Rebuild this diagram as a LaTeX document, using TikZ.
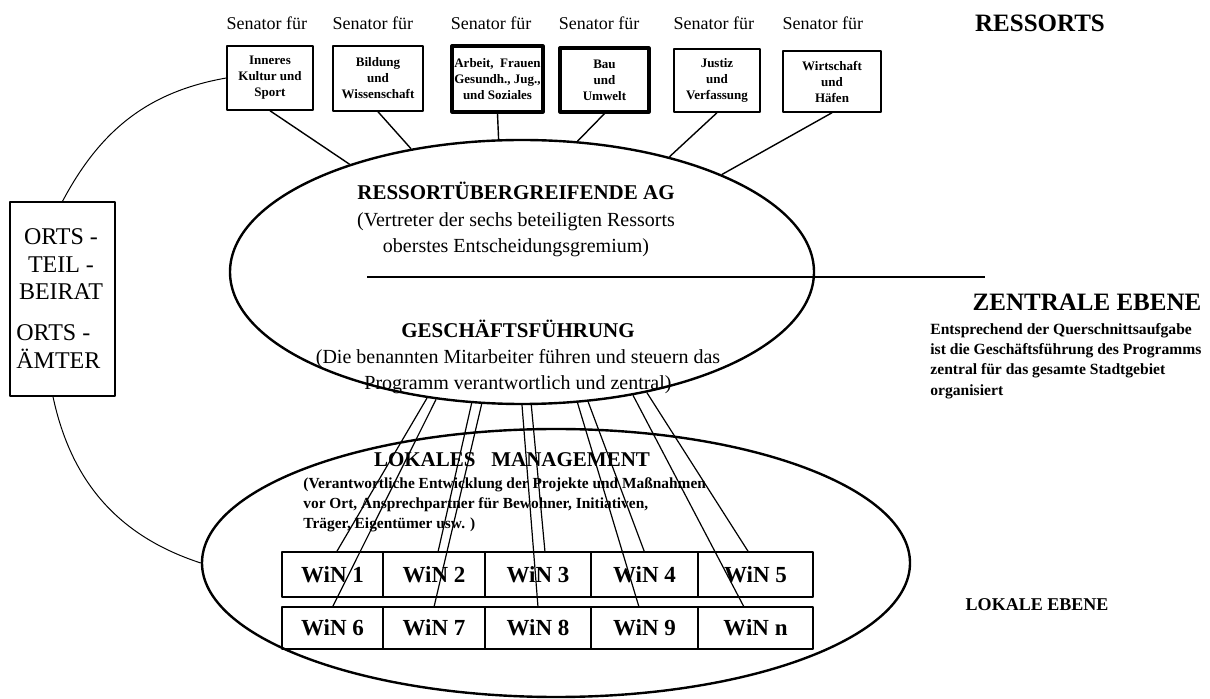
\documentclass[tikz,border=0pt]{standalone}
\usepackage{fontspec}
\setmainfont{Liberation Serif}
\usetikzlibrary{shapes.geometric}
\usetikzlibrary{positioning}

\tikzset{
    ressort/.style={draw, line width=0.75pt, inner sep=0pt, align=center,
        font=\fontsize{6.5}{8}\selectfont\bfseries},
    senator/.style={anchor=west, inner sep=0pt, font=\fontsize{9}{11}\selectfont},
    win/.style={draw, line width=1pt, inner sep=0pt, outer sep=0pt,
        font=\fontsize{11.5}{13}\selectfont\bfseries},
    ebene/.style={inner sep=0pt, font=\fontsize{12.5}{15}\selectfont\bfseries},
}

\begin{document}
\begin{tikzpicture}[x=0.5pt, y=0.5pt, line join=round, link/.style={line width=0.7pt}]
    \useasboundingbox (0,0) rectangle (1210,-699);

    % Ressorts
    \node[ressort, minimum width=43pt, minimum height=32pt] (s1) at (270,-78) {Inneres\\Kultur und\\Sport};
    \node[ressort, minimum width=45pt, minimum height=32.5pt] (s2) at (378,-78.5) {Bildung\\und\\Wissenschaft};
    \node[ressort, line width=1.6pt, minimum width=45.5pt, minimum height=33pt] (s3) at (497.5,-79) {Arbeit,~ Frauen\\Gesundh., Jug.,\\und Soziales};
    \node[ressort, line width=1.6pt, minimum width=44.5pt, minimum height=32pt] (s4) at (604.5,-80) {Bau\\und\\Umwelt};
    \node[ressort, minimum width=43pt, minimum height=31.5pt] (s5) at (717,-80.5) {Justiz\\und\\Verfassung};
    \node[ressort, minimum width=49pt, minimum height=30.5pt] (s6) at (832,-81.5) {Wirtschaft\\und\\Häfen};

    \coordinate (senrow) at (0,-23);
    \foreach \s in {1,...,6}
        \node[senator] (l\s) at (s\s.north west |- senrow) {Senator für};

    \node[ebene] (res) at (1040,-23) {RESSORTS};

    % zentrale Ebene
    \node[draw, ellipse, line width=1.2pt, minimum width=292pt, minimum height=132pt, inner sep=0pt] (ag) at (522,-272) {};
    \node[align=center, inner sep=0pt, font=\fontsize{10}{13.2}\selectfont] (agt) at (516,-219.5)
        {{\fontsize{10.5}{13}\selectfont\bfseries RESSORTÜBERGREIFENDE AG}\\(Vertreter der sechs beteiligten Ressorts\\oberstes Entscheidungsgremium)};
    \node[align=center, inner sep=0pt, font=\fontsize{10}{13}\selectfont] (gf) at (518,-357)
        {{\fontsize{10.5}{13}\selectfont\bfseries GESCHÄFTSFÜHRUNG}\\(Die benannten Mitarbeiter führen und steuern das\\Programm verantwortlich und zentral)};
    \coordinate (hlA) at (367,-277);
    \coordinate (hlB) at (985,-277);
    \draw[line width=0.9pt] (hlA) -- (hlB);

    \node[ebene] (zen) at (1087,-302) {ZENTRALE EBENE};
    \node[anchor=west, align=left, inner sep=0pt, font=\fontsize{7.8}{10.2}\selectfont\bfseries] (zentxt) at (930,-361)
        {Entsprechend der Querschnittsaufgabe\\ist die Geschäftsführung des Programms\\zentral für das gesamte Stadtgebiet\\organisiert};

    \path[link] (s1.south) edge (ag.148)
                (s2.south) edge (ag.132)
                (s3.south) edge (ag.100)
                (s4.south) edge (ag.67)
                (s5.south) edge (ag.38)
                (s6.south) edge (ag.26);

    % Ortsteilbeirat
    \node[draw, line width=0.7pt, minimum width=52.5pt, minimum height=97pt, inner sep=0pt] (ob) at (62.5,-299) {};
    \node[align=center, inner sep=0pt, font=\fontsize{12}{13.75}\selectfont] (obt) at (61,-264.5) {ORTS -\\TEIL -\\BEIRAT};
    \node[anchor=west, align=left, inner sep=0pt, font=\fontsize{12}{13.75}\selectfont] (oat) at (16,-346.5) {ORTS -\\ÄMTER};

    % lokale Ebene
    \node[draw, ellipse, line width=1.2pt, minimum width=354pt, minimum height=134pt, inner sep=0pt] (lm) at (556,-563) {};
    \node[inner sep=0pt, font=\fontsize{10.5}{13}\selectfont\bfseries] (lmt) at (512,-460) {LOKALES~~ MANAGEMENT};
    \node[anchor=west, align=left, inner sep=0pt, font=\fontsize{7.7}{10}\selectfont\bfseries] (lmtxt) at (303,-505)
        {(Verantwortliche Entwicklung der Projekte und Maßnahmen\\vor Ort, Ansprechpartner für Bewohner, Initiativen,\\Träger, Eigentümer usw. )};
    \node[ebene, font=\fontsize{9}{11}\selectfont\bfseries] (lok) at (1037,-605) {LOKALE EBENE};

    \draw[line width=0.5pt] (ob.north) to[out=62, in=190] (s1.west);
    \draw[line width=0.5pt] ([xshift=-4.75pt]ob.south) to[out=-78, in=162] (lm.west);

    % Wohngebiete
    \node[win, minimum width=50.5pt, minimum height=22.5pt] (w1) at (332.5,-574.5) {WiN 1};
    \node[win, minimum width=51pt, minimum height=22.5pt] (w2) [right=0pt of w1] {WiN 2};
    \node[win, minimum width=53pt, minimum height=22.5pt] (w3) [right=0pt of w2] {WiN 3};
    \node[win, minimum width=53.5pt, minimum height=22.5pt] (w4) [right=0pt of w3] {WiN 4};
    \node[win, minimum width=57.5pt, minimum height=22.5pt] (w5) [right=0pt of w4] {WiN 5};
    \node[win, minimum width=50.5pt, minimum height=21pt] (w6) [below=5pt of w1] {WiN 6};
    \node[win, minimum width=51pt, minimum height=21pt] (w7) [right=0pt of w6] {WiN 7};
    \node[win, minimum width=53pt, minimum height=21pt] (w8) [right=0pt of w7] {WiN 8};
    \node[win, minimum width=53.5pt, minimum height=21pt] (w9) [right=0pt of w8] {WiN 9};
    \node[win, minimum width=57.5pt, minimum height=21pt] (wn) [right=0pt of w9] {WiN n};

    \path[line width=0.6pt] (ag.233) edge ([xshift=2pt]w1.north)
                            (ag.236) edge (w6.north)
                            (ag.249) edge ([xshift=2pt]w2.north)
                            (ag.253) edge (w7.north)
                            (ag.270) edge (w8.north)
                            (ag.274) edge ([xshift=3.5pt]w3.north)
                            (ag.293) edge ([xshift=-2.75pt]w9.north)
                            (ag.297) edge (w4.north)
                            (ag.312) edge ([xshift=-5.75pt]wn.north)
                            (ag.316) edge ([xshift=-3.5pt]w5.north);
\end{tikzpicture}
\end{document}
